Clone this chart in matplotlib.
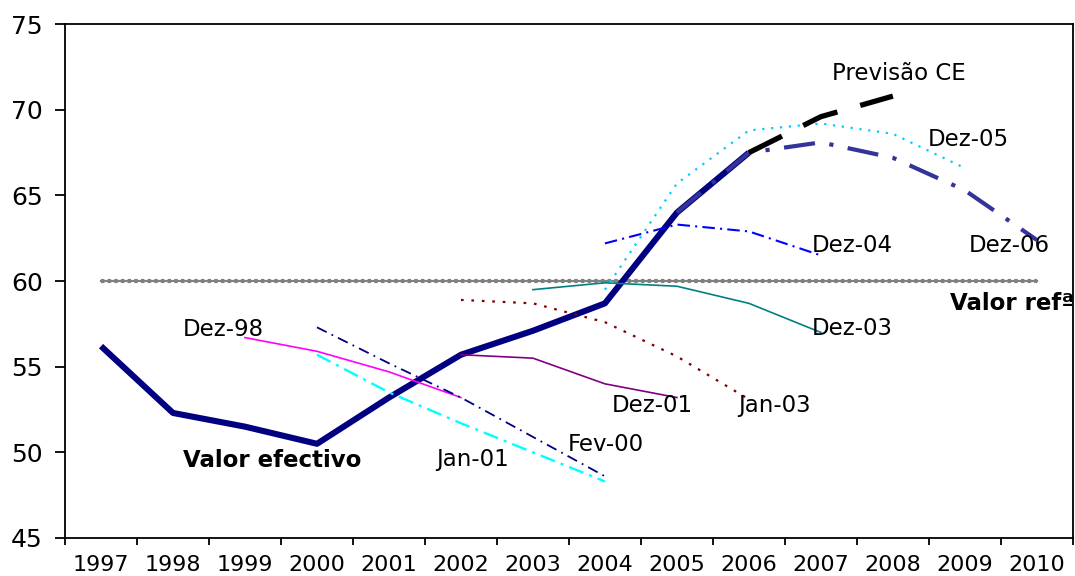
import numpy as np
import matplotlib
matplotlib.use("Agg")
import matplotlib.pyplot as plt

years = ['1997', '1998', '1999', '2000', '2001', '2002', '2003',
         '2004', '2005', '2006', '2007', '2008', '2009', '2010']
N = None
valor_efectivo = [56.2, 52.3, 51.5, 50.5, 53.2, 55.7, 57.1, 58.7, 64.0, 67.5, N, N, N, N]
previsao_ce    = [N, N, N, N, N, N, N, N, N, 67.5, 69.6, 70.8, N, N]
dez06          = [N, N, N, N, N, N, N, N, 64.0, 67.5, 68.1, 67.2, 65.3, 62.4]
dez05          = [N, N, N, N, N, N, N, 59.5, 65.7, 68.8, 69.2, 68.6, 66.6, N]
dez04          = [N, N, N, N, N, N, N, 62.2, 63.3, 62.9, 61.5, N, N, N]
dez03          = [N, N, N, N, N, N, 59.5, 59.9, 59.7, 58.7, 57.0, N, N, N]
jan03          = [N, N, N, N, N, 58.9, 58.7, 57.6, 55.6, 53.1, N, N, N, N]
dez01          = [N, N, N, N, N, 55.7, 55.5, 54.0, 53.2, N, N, N, N, N]
dez98          = [N, N, 56.7, 55.9, 54.7, 53.2, N, N, N, N, N, N, N, N]
jan01          = [N, N, N, 55.7, 53.5, 51.7, 50.0, 48.3, N, N, N, N, N, N]
fev00          = [N, N, N, 57.3, 55.2, 53.2, 50.9, 48.6, N, N, N, N, N, N]
valor_ref      = [60.0] * 14

def arr(v):
    return np.array([np.nan if a is None else a for a in v], dtype=float)

x = np.arange(len(years))

fig = plt.figure(figsize=(10.75, 5.76), dpi=100)
ax = fig.add_axes([0.0605, 0.066, 0.9375, 0.892])

# reference line
ax.plot(x, arr(valor_ref), color='#808080', lw=1.6, zorder=2)
ax.plot(x, arr(valor_ref), color='#808080', lw=3.0, dashes=(0.8, 0.8), zorder=2)

ax.plot(x, arr(valor_efectivo), color='#000080', lw=4.4, solid_capstyle='butt', zorder=3)
ax.plot(x, arr(dez98), color='#FF00FF', lw=1.2, zorder=4)
ax.plot(x, arr(jan01), color='#00FFFF', lw=1.7, dashes=(6.5, 2.6, 1.3, 2.6), zorder=4)
ax.plot(x, arr(fev00), color='#000080', lw=1.3, dashes=(6, 3, 1, 3), zorder=4)
ax.plot(x, arr(dez01), color='#800080', lw=1.2, zorder=4)
ax.plot(x, arr(jan03), color='#800000', lw=1.6, dashes=(1.2, 3.5), zorder=4)
ax.plot(x, arr(dez03), color='#008080', lw=1.2, zorder=4)
ax.plot(x, arr(dez04), color='#0000FF', lw=1.5, dashes=(6, 2.5, 1, 2.5), zorder=4)
ax.plot(x, arr(dez05), color='#00CCFF', lw=1.6, dashes=(1, 3), zorder=4)
ax.plot(x, arr(dez06), color='#333399', lw=3.0, dashes=(7.5, 3.5, 1, 3.5), zorder=5)
ax.plot(x, arr(previsao_ce), color='black', lw=3.8, dashes=(7, 4.5), zorder=6)

ax.set_xlim(-0.5, len(years) - 0.5)
ax.set_ylim(45, 75)
ax.set_yticks([45, 50, 55, 60, 65, 70, 75])
ax.set_xticks(x)
ax.set_xticklabels(years)
ax.set_xticks(np.arange(-0.5, len(years)), minor=True)
ax.tick_params(axis='x', which='major', length=0, labelsize=16, pad=12)
ax.tick_params(axis='x', which='minor', length=5, width=1.3, direction='out')
ax.tick_params(axis='y', length=7, width=1.3, labelsize=18, pad=9)
for s in ax.spines.values():
    s.set_linewidth(1.3)

fs = 16.5
labels = [
    ('Previsão CE', 10.15, 72.15),
    ('Dez-05', 11.49, 68.29),
    ('Dez-04', 9.875, 62.1),
    ('Dez-06', 12.06, 62.1),
    ('Dez-03', 9.875, 57.26),
    ('Dez-98', 1.14, 57.2),
    ('Dez-01', 7.10, 52.76),
    ('Jan-03', 8.85, 52.76),
    ('Fev-00', 6.49, 50.43),
    ('Jan-01', 4.65, 49.6),
]
for t, lx, ly in labels:
    ax.text(lx, ly, t, fontsize=fs, ha='left', va='center', zorder=7)
ax.text(1.14, 49.55, 'Valor efectivo', fontsize=16.5, fontweight='bold',
        ha='left', va='center', zorder=7)
ax.text(11.79, 58.72, 'Valor refª', fontsize=16.5, fontweight='bold',
        ha='left', va='center', zorder=7, clip_on=False)

fig.savefig('out.png', dpi=100)
